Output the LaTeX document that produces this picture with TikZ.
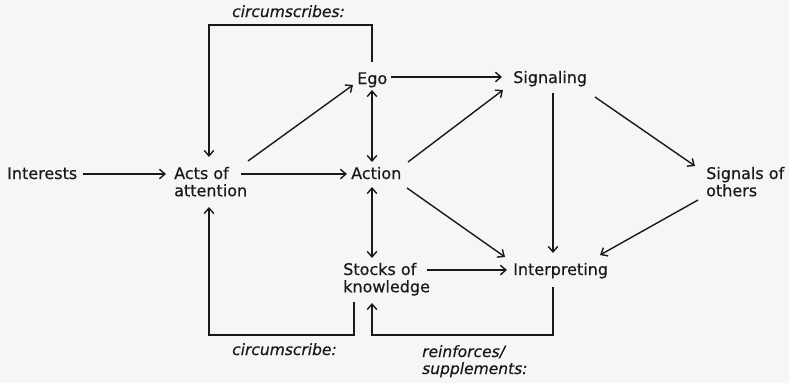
\documentclass[tikz,border=0pt]{standalone}
\usepackage{fontspec}
\setmainfont{DejaVu Sans}[FakeBold=0.4]
\usetikzlibrary{arrows.meta}
\definecolor{ink}{RGB}{25,25,25}
\definecolor{paper}{RGB}{246,246,244}
\newcommand{\twolines}[2]{\begin{tabular}[t]{@{}l@{}}#1\\#2\end{tabular}}
\begin{document}
\begin{tikzpicture}[x=1pt,y=-1pt,
  lbl/.style={inner sep=0pt, anchor=base west, text=ink,
    font=\fontsize{16}{17}\selectfont},
  note/.style={lbl, font=\fontsize{15.5}{17}\selectfont\itshape},
  arr/.style={draw=ink, line width=1.4pt,
    -{Straight Barb[length=5.5pt,width=9.5pt]}},
  dbl/.style={draw=ink, line width=1.4pt,
    {Straight Barb[length=5.5pt,width=9.5pt]}-{Straight Barb[length=5.5pt,width=9.5pt]}},
  loop/.style={arr}]
  \renewcommand{\arraystretch}{1}
  \setlength{\tabcolsep}{0pt}
  \fill[paper] (0,0) rectangle (789,383);
  \useasboundingbox (0,0) rectangle (789,383);

  % concepts
  \node[lbl] (interests)    at (7,179)   {Interests};
  \node[lbl] (acts)         at (174,179) {\twolines{Acts of}{attention}};
  \node[lbl] (ego)          at (357,84)  {Ego};
  \node[lbl] (action)       at (351,179) {Action};
  \node[lbl] (signaling)    at (513,83)  {Signaling};
  \node[lbl] (signals)      at (706,179) {\twolines{Signals of}{others}};
  \node[lbl] (stocks)       at (343,275) {\twolines{Stocks of}{knowledge}};
  \node[lbl] (interpreting) at (513,275) {Interpreting};

  % relation labels
  \node[note] (lcircs) at (232,17)  {circumscribes:};
  \node[note] (lcirc)  at (232,355) {circumscribe:};
  \node[note] (lreinf) at (422,357) {\twolines{reinforces/}{supplements:}};

  % straight links
  \draw[arr] ([shift={(76,-5)}]interests.base west) -- ([shift={(-8,-5)}]acts.base west);
  \draw[arr] ([shift={(67,-5)}]acts.base west) -- ([shift={(-4,-5)}]action.base west);
  \draw[arr] ([shift={(74,-18)}]acts.base west) -- ([shift={(-4,1)}]ego.base west);
  \draw[arr] ([shift={(34,-7)}]ego.base west) -- ([shift={(-11,-6)}]signaling.base west);
  \draw[dbl] ([shift={(15,6)}]ego.base west) -- ([shift={(21,-17)}]action.base west);
  \draw[dbl] ([shift={(21,8)}]action.base west) -- ([shift={(29,-17)}]stocks.base west);
  \draw[arr] ([shift={(57,-17)}]action.base west) -- ([shift={(-10,7)}]signaling.base west);
  \draw[arr] ([shift={(56,9)}]action.base west) -- ([shift={(-8,-18)}]interpreting.base west);
  \draw[arr] ([shift={(82,14)}]signaling.base west) -- ([shift={(-11,-13)}]signals.base west);
  \draw[arr] ([shift={(40,10)}]signaling.base west) -- ([shift={(40,-22)}]interpreting.base west);
  \draw[arr] ([shift={(-8,21)}]signals.base west) -- ([shift={(87,-20)}]interpreting.base west);
  \draw[arr] ([shift={(84,-5)}]stocks.base west) -- ([shift={(-6,-5)}]interpreting.base west);

  % feedback loops
  \draw[loop] ([shift={(15,-22)}]ego.base west) -- ++(0,-37)
    -| ([shift={(35,-22)}]acts.base west);
  \draw[loop] ([shift={(11,27)}]stocks.base west) -- ++(0,33)
    -| ([shift={(35,28)}]acts.base west);
  \draw[loop] ([shift={(40,12)}]interpreting.base west) -- ++(0,48)
    -| ([shift={(29,28)}]stocks.base west);
\end{tikzpicture}
\end{document}
